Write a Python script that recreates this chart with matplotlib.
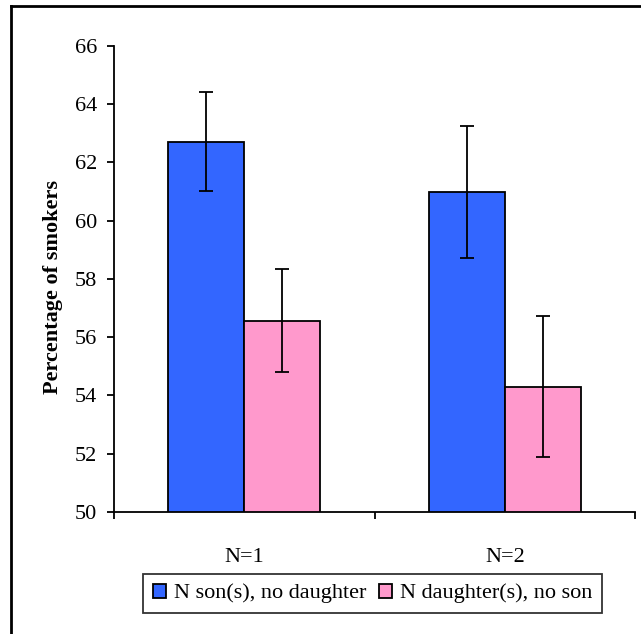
import matplotlib
matplotlib.use("Agg")
import matplotlib.pyplot as plt
from matplotlib.lines import Line2D
import numpy as np

categories = ["N=1", "N=2"]
series_names = ["N son(s), no daughter", "N daughter(s), no son"]
son_values = [62.7, 60.98]
son_err = [1.7, 2.25]
daughter_values = [56.57, 54.3]
daughter_err = [1.77, 2.42]
yticks = [50, 52, 54, 56, 58, 60, 62, 64, 66]

plt.rcParams['font.family'] = ['Liberation Serif', 'DejaVu Serif']

fig = plt.figure(figsize=(6.41, 6.34), dpi=100)
ax = fig.add_axes([114/641, 1-512/634, (635-114)/641, (512-45.7)/634])

x = np.arange(len(categories))
w = 0.292
ekw = dict(elinewidth=1.3, capthick=1.3, ecolor='black')
ax.bar(x - w/2, son_values, w, color='#3366FF', edgecolor='black', linewidth=1.3,
       yerr=son_err, capsize=5, error_kw=ekw, label=series_names[0])
ax.bar(x + w/2, daughter_values, w, color='#FF99CC', edgecolor='black', linewidth=1.3,
       yerr=daughter_err, capsize=5, error_kw=ekw, label=series_names[1])

ax.set_xlim(-0.5, 1.5)
ax.set_ylim(50, 66)
ax.set_yticks(yticks)
ax.set_xticks(x)
ax.set_xticklabels(categories)
ax.set_xticks([-0.5, 0.5, 1.5], minor=True)
ax.tick_params(axis='x', which='major', length=0, pad=26, labelsize=16)
ax.tick_params(axis='x', which='minor', length=5, width=1.3, direction='out')
ax.tick_params(axis='y', length=5, width=1.3, pad=7, labelsize=16)
for s in ['top', 'right']:
    ax.spines[s].set_visible(False)
for s in ['left', 'bottom']:
    ax.spines[s].set_linewidth(1.3)

ax.set_ylabel("Percentage of smokers", fontsize=16, fontweight='bold')
ax.yaxis.set_label_coords(-0.098, 0.483)

leg = fig.legend(loc='center', bbox_to_anchor=(372.5/641, 1-593.5/634), ncol=2,
                 fontsize=16, frameon=True, fancybox=False, edgecolor='black',
                 handlelength=0.6, handleheight=0.6, handletextpad=0.35,
                 columnspacing=0.55, borderpad=0.45, borderaxespad=0)
leg.get_frame().set_linewidth(1.3)

# outer border (top and left visible)
fig.add_artist(Line2D([11/641, 1], [1-6/634, 1-6/634], color='black', lw=2, transform=fig.transFigure))
fig.add_artist(Line2D([11/641, 11/641], [0, 1-6/634], color='black', lw=2, transform=fig.transFigure))

fig.savefig("out.png", dpi=100)
